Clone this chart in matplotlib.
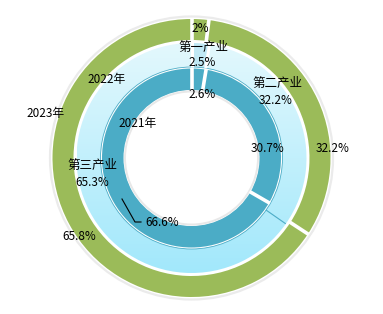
import matplotlib
matplotlib.use('Agg')
import matplotlib.pyplot as plt
import numpy as np
from matplotlib.patches import Circle
from matplotlib.colors import to_rgb

plt.rcParams['font.family'] = ['Noto Sans CJK SC', 'DejaVu Sans']

# 数据
categories = ['第一产业', '第二产业', '第三产业']
years = ['2021年', '2022年', '2023年']
share_2021 = [2.6, 30.7, 66.6]
share_2022 = [2.5, 32.2, 65.3]
share_2023 = [2.0, 32.2, 65.8]

W, H = 383, 314
fig = plt.figure(figsize=(W / 100, H / 100), dpi=100)
ax = fig.add_axes([0, 0, 1, 1])

cx, cy = 191.5, H - 158
green = '#9BBB59'
teal = '#4BACC6'


def ring(vals, r, w, colors):
    wedges, _ = ax.pie(vals, radius=r, center=(cx, cy), startangle=90,
                       counterclock=False, colors=colors,
                       wedgeprops=dict(width=w, linewidth=0))
    return wedges


def separators(vals, r_in, r_out, color, lw, skip=()):
    frac = np.concatenate([[0], np.cumsum(vals) / np.sum(vals)])[:-1]
    for i, f in enumerate(frac):
        if i in skip:
            continue
        a = np.deg2rad(90 - f * 360)
        ax.plot([cx + r_in * np.cos(a), cx + r_out * np.cos(a)],
                [cy + r_in * np.sin(a), cy + r_out * np.sin(a)],
                color=color, lw=lw, solid_capstyle='butt', zorder=5)


# 外圈阴影
ax.add_patch(Circle((cx, cy), 141.5, fill=False, ec='#EBEBEB', lw=1.6, zorder=1))

# 2023 外圈
ring(share_2023, 139, 21, [green] * 3)
separators(share_2023, 117, 140, 'white', 2.6)

# 2022 中圈 (渐变)
mid = ring(share_2022, 115, 24, ['none'] * 3)
top_c, bot_c = np.array(to_rgb('#E3F8FD')), np.array(to_rgb('#A2E8FB'))
t = np.linspace(0, 1, 256)[:, None, None]
grad = top_c * (1 - t) + bot_c * t
for i, wdg in enumerate(mid):
    if i == 0:
        wdg.set_facecolor('#C0E8F4')
        continue
    im = ax.imshow(grad, extent=(cx - 115, cx + 115, cy - 115, cy + 115),
                   origin='upper', interpolation='bilinear', zorder=2)
    im.set_clip_path(wdg)
separators(share_2022, 91, 116, 'white', 2.2, skip=(2,))
separators(share_2022, 91, 115, teal, 0.8, skip=(0, 1))

# 2021 内圈
ring(share_2021, 89.5, 21.5, [teal] * 3)
separators(share_2021, 67, 90.5, 'white', 2.6)
ax.add_patch(Circle((cx, cy), 91, fill=False, ec=teal, lw=0.6, zorder=4))
ax.add_patch(Circle((cx, cy), 66.5, fill=False, ec='#E8E8E8', lw=1.4, zorder=4))


def label(px, py, s, size=8.5):
    ax.text(px, H - py, s, ha='center', va='center', fontsize=size,
            color='black', zorder=10)


# 年份
label(46, 113, years[2])
label(107, 80, years[1])
label(138, 124, years[0])

# 2023
label(200, 29, f'{share_2023[0]:g}%')
label(333, 149, f'{share_2023[1]}%')
label(79, 237, f'{share_2023[2]}%')

# 2022
label(203, 47, categories[0], 9)
label(202, 63, f'{share_2022[0]}%')
label(277, 83, categories[1], 9)
label(276, 100, f'{share_2022[1]}%')
label(92, 165, categories[2], 9)
label(92, 182, f'{share_2022[2]}%')

# 2021
label(202, 94, f'{share_2021[0]}%')
label(268, 149, f'{share_2021[1]}%')
label(162, 222, f'{share_2021[2]}%')
ax.plot([122, 135, 141], [H - 199, H - 222, H - 222], color='black', lw=0.8, zorder=10)

ax.set_xlim(0, W)
ax.set_ylim(0, H)
ax.set_aspect('auto')
ax.axis('off')

fig.savefig('out.png', dpi=100)
